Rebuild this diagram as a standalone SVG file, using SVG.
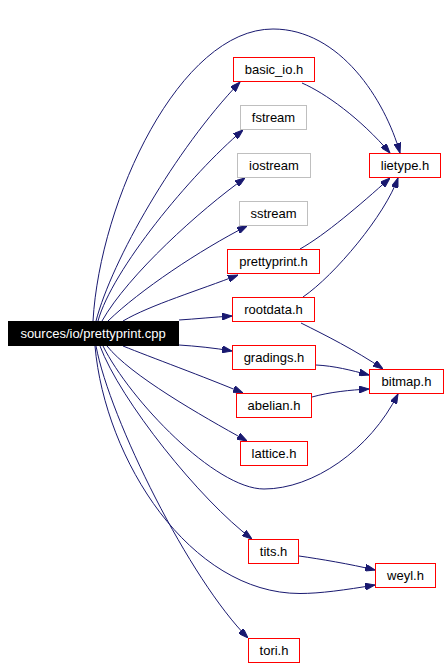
<svg xmlns="http://www.w3.org/2000/svg" width="448" height="667" viewBox="0 0 448 667">
<style>
.n rect{fill:#fff;stroke:#ff0000;stroke-width:1}
.n.sys rect{stroke:#bfbfbf}
.n.src rect{fill:#000;stroke:#000}
.n text{font-family:"Liberation Sans",Arial,sans-serif;font-size:13px;fill:#000;text-anchor:middle}
.n.src text{fill:#fff}
.e path{fill:none;stroke:#191970;stroke-width:1;marker-end:url(#arr)}
</style>
<defs>
<marker id="arr" viewBox="0 0 10 7" refX="10" refY="3.5" markerWidth="10" markerHeight="7" markerUnits="userSpaceOnUse" orient="auto">
<path d="M0,0 L10,3.5 L0,7 z" fill="#191970" stroke="#191970"/>
</marker>
</defs>
<rect width="448" height="667" fill="#fff"/>
<g id="edges" class="e">
<path d="M93,321 C100,200 180,29 273,29 C340,29 385,100 400,153"/>
<path d="M96,321 C112,260 175,150 240,82"/>
<path d="M98,321 C112,270 190,175 243,130"/>
<path d="M102,321 C128,275 200,210 245,178"/>
<path d="M108,321 C140,290 200,250 247,226"/>
<path d="M123,321 C150,305 200,290 238,275"/>
<path d="M179,320 C195,319 215,317 232,316"/>
<path d="M179,345 C195,346 215,348 232,351"/>
<path d="M123,346 C150,357 205,377 243,393"/>
<path d="M107,346 C130,375 200,415 247,441"/>
<path d="M103,346 C130,400 215,489 264,489 C313,489 370,450 398,394"/>
<path d="M100,346 C120,400 200,500 252,539"/>
<path d="M95,346 C105,460 190,593.5 300,593.5 C320,593.5 345,590 375,585"/>
<path d="M96,346 C110,420 190,580 248,638"/>
<path d="M302,83 C325,93 360,118 390,153"/>
<path d="M300,249 C325,235 360,205 390,178"/>
<path d="M303,297 C335,275 385,215 398,178"/>
<path d="M301,323 C325,335 355,350 383,369"/>
<path d="M316,365 C335,366 350,370 369,375"/>
<path d="M312,397 C330,392 350,390 369,389"/>
<path d="M299,556 C320,559 350,564 375,570"/>
</g>
<g id="prettyprint_cpp" class="n src"><rect x="8.5" y="321.5" width="170" height="24"/><text x="93" y="338">sources/io/prettyprint.cpp</text></g>
<g id="basic_io_h" class="n"><rect x="233.5" y="57.5" width="81" height="24"/><text x="274" y="74">basic_io.h</text></g>
<g id="fstream" class="n sys"><rect x="240.5" y="105.5" width="66" height="24"/><text x="273.5" y="122">fstream</text></g>
<g id="iostream" class="n sys"><rect x="237.5" y="153.5" width="73" height="24"/><text x="274" y="170">iostream</text></g>
<g id="sstream" class="n sys"><rect x="239.5" y="201.5" width="68" height="24"/><text x="273.5" y="218">sstream</text></g>
<g id="lietype_h" class="n"><rect x="369.5" y="153.5" width="71" height="24"/><text x="405" y="170">lietype.h</text></g>
<g id="prettyprint_h" class="n"><rect x="227.5" y="249.5" width="92" height="24"/><text x="273.5" y="266">prettyprint.h</text></g>
<g id="rootdata_h" class="n"><rect x="232.5" y="297.5" width="82" height="24"/><text x="273.5" y="314">rootdata.h</text></g>
<g id="gradings_h" class="n"><rect x="232.5" y="345.5" width="83" height="24"/><text x="274" y="362">gradings.h</text></g>
<g id="bitmap_h" class="n"><rect x="369.5" y="369.5" width="74" height="24"/><text x="406.5" y="386">bitmap.h</text></g>
<g id="abelian_h" class="n"><rect x="236.5" y="393.5" width="75" height="24"/><text x="274" y="410">abelian.h</text></g>
<g id="lattice_h" class="n"><rect x="240.5" y="441.5" width="67" height="24"/><text x="274" y="458">lattice.h</text></g>
<g id="tits_h" class="n"><rect x="248.5" y="539.5" width="50" height="24"/><text x="273.5" y="556">tits.h</text></g>
<g id="weyl_h" class="n"><rect x="375.5" y="563.5" width="60" height="24"/><text x="405.5" y="580">weyl.h</text></g>
<g id="tori_h" class="n"><rect x="248.5" y="638.5" width="51" height="24"/><text x="274" y="655">tori.h</text></g>
</svg>
